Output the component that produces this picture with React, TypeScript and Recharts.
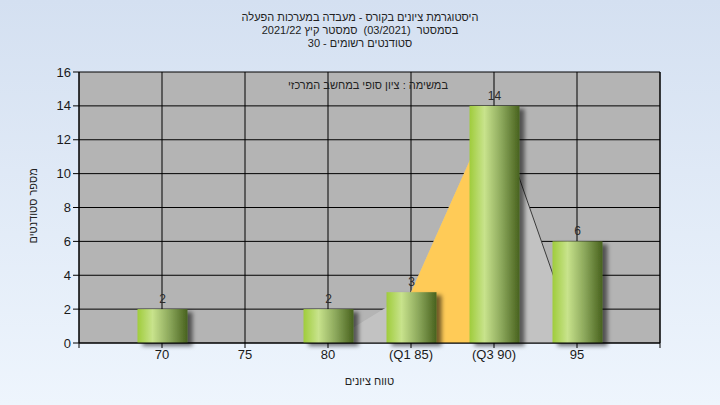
import React from "react";
import { Area, Bar, CartesianGrid, ComposedChart, LabelList, XAxis, YAxis } from "recharts";

const gradeBins = [70, 75, 80, 85, 90, 95];
const tickLabels = ["70", "75", "80", "(Q1 85)", "(Q3 90)", "95"];
const studentCounts = [2, 0, 2, 3, 14, 6];
const spreadCurve = [null, null, 0, 3, 14, 0];
const quartileBand = [null, null, null, 3, 14, null];
const tailLine = [null, null, null, null, 14, 0];
const axisTicks = [65, 70, 75, 80, 85, 90, 95, 100];
const yTicks = [0, 2, 4, 6, 8, 10, 12, 14, 16];

const titleLines = [
  "היסטוגרמת ציונים בקורס - מעבדה במערכות הפעלה",
  "בסמסטר  (03/2021)  סמסטר קיץ 2021/22",
  "סטודנטים רשומים - 30",
];
const subTitle = "במשימה : ציון סופי במחשב המרכזי";
const yTitle = "מספר סטודנטים";
const xTitle = "טווח ציונים";

const data = gradeBins.map((g, i) => ({
  grade: g,
  count: studentCounts[i],
  spread: spreadCurve[i],
  band: quartileBand[i],
  tail: tailLine[i],
}));

const FONT = "'Liberation Sans', 'DejaVu Sans', Arial, sans-serif";
const tickStyle = { fontSize: 13, fill: "#1a1a1a", fontFamily: FONT };

function labelFor(g: number) {
  const i = gradeBins.indexOf(g);
  return i >= 0 ? tickLabels[i] : "";
}

function ShadowBar(props: any) {
  const { x, y, width, height } = props;
  if (!height || height <= 0) return null;
  return (
    <rect x={x} y={y} width={width} height={height} fill="url(#barGrad)" filter="url(#barShadow)" />
  );
}

function CountLabel(props: any) {
  const { x, y, width, value } = props;
  if (!value) return null;
  return (
    <text x={x + width / 2} y={y - 6} textAnchor="middle" fontSize={12} fill="#2a2a2a" fontFamily={FONT}>
      {value}
    </text>
  );
}

export default function App() {
  return (
    <div
      style={{
        position: "absolute",
        left: 0,
        top: 0,
        width: 720,
        height: 405,
        background: "linear-gradient(#d4e0f1, #eef5fd)",
        fontFamily: FONT,
        overflow: "hidden",
      }}
    >
      <div
        style={{
          position: "absolute",
          top: 11,
          left: 0,
          width: 720,
          textAlign: "center",
          direction: "rtl",
          fontSize: 11,
          lineHeight: "13px",
          color: "#222",
          whiteSpace: "pre",
        }}
      >
        {titleLines.map((t) => (
          <div key={t}>{t}</div>
        ))}
      </div>
      <ComposedChart width={720} height={405} data={data} margin={{ top: 72, right: 30, left: 49, bottom: 32 }}>
        <defs>
          <linearGradient id="barGrad" x1="0" y1="0" x2="1" y2="0">
            <stop offset="0%" stopColor="#9fcc3c" />
            <stop offset="30%" stopColor="#c8e38c" />
            <stop offset="65%" stopColor="#8aa65a" />
            <stop offset="100%" stopColor="#48621e" />
          </linearGradient>
          <filter id="barShadow" x="-20%" y="-20%" width="150%" height="150%">
            <feDropShadow dx="5" dy="3" stdDeviation="2" floodColor="#000" floodOpacity="0.55" />
          </filter>
        </defs>
        <CartesianGrid yAxisId="left" fill="#b4b4b4" stroke="#000" strokeWidth={1} fillOpacity={1} />
        <XAxis
          dataKey="grade"
          type="number"
          domain={[65, 100]}
          ticks={axisTicks}
          tickFormatter={labelFor}
          interval={0}
          stroke="#000"
          tickSize={5}
          tick={tickStyle}
          height={30}
          label={{ value: xTitle, position: "insideBottom", offset: -12, fontSize: 11, fill: "#222", fontFamily: FONT }}
        />
        <YAxis
          yAxisId="left"
          domain={[0, 16]}
          ticks={yTicks}
          interval={0}
          stroke="#000"
          tickSize={6}
          width={30}
          tick={tickStyle}
          label={{ value: yTitle, angle: -90, position: "insideLeft", offset: -16, dy: 36, fontSize: 11, fill: "#222", fontFamily: FONT }}
        />
        <YAxis
          yAxisId="right"
          orientation="right"
          domain={[0, 16]}
          ticks={yTicks}
          interval={0}
          stroke="#000"
          tickSize={6}
          width={30}
          tick={tickStyle}
        />
        <Area
          yAxisId="left"
          dataKey="spread"
          type="linear"
          fill="#c2c2c2"
          fillOpacity={1}
          stroke="none"
          isAnimationActive={false}
        />
        <Area
          yAxisId="left"
          dataKey="band"
          type="linear"
          fill="#ffcb57"
          fillOpacity={1}
          stroke="none"
          isAnimationActive={false}
        />
        <Area
          yAxisId="left"
          dataKey="tail"
          type="linear"
          fill="none"
          stroke="#3a3a3a"
          strokeWidth={1}
          isAnimationActive={false}
        />
        <Bar yAxisId="left" dataKey="count" barSize={50} shape={<ShadowBar />} isAnimationActive={false}>
          <LabelList dataKey="count" content={<CountLabel />} />
        </Bar>
      </ComposedChart>
      <div
        style={{
          position: "absolute",
          top: 79,
          left: 0,
          width: 736,
          textAlign: "center",
          direction: "rtl",
          fontSize: 11,
          color: "#222",
        }}
      >
        {subTitle}
      </div>
    </div>
  );
}
